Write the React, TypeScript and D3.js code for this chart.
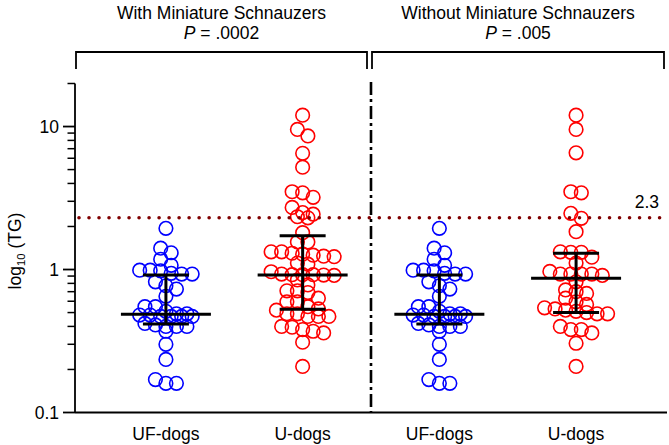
import React from 'react';
import * as d3 from 'd3';

const groups = ['UF-with', 'U-with', 'UF-without', 'U-without'];
const groupLabels = ['UF-dogs', 'U-dogs', 'UF-dogs', 'U-dogs'];
const groupColors = ['#0000ff', '#ff0000', '#0000ff', '#ff0000'];

const ufDogs = [1.94, 1.41, 1.31, 1.18, 1.07, 0.99, 0.99, 0.98, 0.94, 0.93, 0.93, 0.82, 0.77, 0.73, 0.65,
  0.55, 0.55, 0.51, 0.49, 0.49, 0.48, 0.48, 0.47, 0.47, 0.47, 0.47, 0.42, 0.41, 0.40, 0.40, 0.40, 0.37,
  0.30, 0.235, 0.17, 0.16, 0.16];
const uDogsWith = [12.0, 9.55, 8.6, 6.5, 5.2, 3.5, 3.44, 3.2, 2.72, 2.5, 2.44, 2.34, 2.30, 1.81, 1.56, 1.56,
  1.33, 1.33, 1.30, 1.28, 1.26, 1.24, 1.23, 1.11, 1.09, 0.965, 0.93, 0.92, 0.92, 0.92, 0.915, 0.91, 0.845,
  0.78, 0.71, 0.71, 0.69, 0.63, 0.595, 0.595, 0.55, 0.53, 0.52, 0.49, 0.49, 0.47, 0.47, 0.47, 0.40, 0.395,
  0.38, 0.37, 0.36, 0.31, 0.21];
const uDogsWithout = [12.0, 9.55, 6.55, 3.5, 3.44, 2.47, 2.28, 1.84, 1.33, 1.32, 1.32, 1.22, 1.11, 0.97,
  0.93, 0.93, 0.93, 0.93, 0.91, 0.82, 0.72, 0.70, 0.68, 0.63, 0.595, 0.57, 0.54, 0.53, 0.52, 0.51, 0.50,
  0.49, 0.49, 0.40, 0.38, 0.38, 0.36, 0.305, 0.21];
const groupValues = [ufDogs, uDogsWith, ufDogs, uDogsWithout];

const medians = [0.486, 0.915, 0.486, 0.87];
const q1s = [0.416, 0.527, 0.416, 0.50];
const q3s = [0.915, 1.72, 0.915, 1.30];

const panelTitles = ['With Miniature Schnauzers', 'Without Miniature Schnauzers'];
const pValues = ['.0002', '.005'];
const threshold = 2.3;
const thresholdLabel = '2.3';
const yTickValues = [0.1, 1, 10];
const yTickLabels = ['0.1', '1', '10'];

const W = 669;
const H = 445;
const FONT = '"Liberation Sans", Arial, Helvetica, sans-serif';
const FS = 17.5;

const y = d3.scaleLog().domain([0.1, 20]).range([412.5, 83.5]);
const x = d3.scalePoint<string>().domain(groups).range([75, 667]).padding(0.665);

const R = 6.8;
const SPACING = 10.5;
const TOL = 7.5;

function swarm(values: number[], cx: number) {
  const sorted = [...values].sort((a, b) => b - a);
  const pts: { v: number; x: number; y: number }[] = [];
  let row: number[] = [];
  let rowStart: number | null = null;
  const flush = () => {
    const n = row.length;
    row.forEach((v, i) => pts.push({ v, x: cx + (i - (n - 1) / 2) * SPACING, y: y(v) }));
    row = [];
  };
  for (const v of sorted) {
    const py = y(v);
    if (rowStart === null || py - rowStart > TOL) {
      flush();
      rowStart = py;
    }
    row.push(v);
  }
  flush();
  return pts;
}

const minorTicks: number[] = [];
for (const e of [0.1, 1, 10]) {
  for (let k = 2; k <= 9; k++) {
    const v = k * e;
    if (v <= 20.0001) minorTicks.push(v);
  }
}

export default function App() {
  const y0 = y(0.1);
  const yTop = y(20);
  const axisLeft = 75;
  const axisRight = 667;
  const sepX = ((x(groups[1]) as number) + (x(groups[2]) as number)) / 2;
  const brackets = [
    [76, sepX - 4],
    [sepX + 1, 664],
  ];
  const ty = y(threshold);
  return (
    <div style={{ position: 'absolute', left: 0, top: 0 }}>
      <svg width={W} height={H} style={{ display: 'block', fontFamily: FONT }}>
        <rect width={W} height={H} fill="#fff" />
        {brackets.map((b, i) => {
          const cx = (b[0] + b[1]) / 2;
          return (
            <g key={'b' + i}>
              <text x={cx} y={19} textAnchor="middle" fontSize={FS} fill="#000">{panelTitles[i]}</text>
              <text x={cx} y={39} textAnchor="middle" fontSize={FS} fill="#000">
                <tspan fontStyle="italic">P</tspan>
                <tspan> = {pValues[i]}</tspan>
              </text>
              <path d={`M${b[0]},69V52H${b[1]}V69`} fill="none" stroke="#000" strokeWidth={1.8} />
            </g>
          );
        })}
        <line x1={axisLeft} x2={axisLeft} y1={yTop} y2={y0} stroke="#000" strokeWidth={1.8} />
        <line x1={axisLeft} x2={axisRight} y1={y0} y2={y0} stroke="#000" strokeWidth={1.8} />
        {yTickValues.map((v, i) => (
          <g key={'t' + i}>
            <line x1={63} x2={axisLeft} y1={y(v)} y2={y(v)} stroke="#000" strokeWidth={1.8} />
            <text x={59} y={y(v)} dy="0.35em" textAnchor="end" fontSize={FS} fill="#000">{yTickLabels[i]}</text>
          </g>
        ))}
        {minorTicks.map((v, i) => (
          <line key={'m' + i} x1={67.5} x2={axisLeft} y1={y(v)} y2={y(v)} stroke="#000" strokeWidth={1.5} />
        ))}
        <text transform={`translate(21,251) rotate(-90)`} textAnchor="middle" fontSize={FS} fill="#000">
          log<tspan fontSize={FS * 0.65} dy={4}>10</tspan>
          <tspan dy={-4}> (TG)</tspan>
        </text>
        {groups.map((g, i) => (
          <text key={'xl' + i} x={x(g) as number} y={440} textAnchor="middle" fontSize={FS} fill="#000">{groupLabels[i]}</text>
        ))}
        <line x1={sepX} x2={sepX} y1={82} y2={y0} stroke="#000" strokeWidth={2.6} strokeDasharray="13,4,3,4" />
        {groups.map((g, gi) => (
          <g key={'p' + gi}>
            {swarm(groupValues[gi], x(g) as number).map((p, i) => (
              <circle key={i} cx={p.x} cy={p.y} r={R} fill="none" stroke={groupColors[gi]} strokeWidth={1.6} />
            ))}
          </g>
        ))}
        {groups.map((g, gi) => {
          const cx = x(g) as number;
          return (
            <g key={'s' + gi} stroke="#000" strokeWidth={3}>
              <line x1={cx - 45} x2={cx + 45} y1={y(medians[gi])} y2={y(medians[gi])} />
              <line x1={cx - 23} x2={cx + 23} y1={y(q1s[gi])} y2={y(q1s[gi])} />
              <line x1={cx - 23} x2={cx + 23} y1={y(q3s[gi])} y2={y(q3s[gi])} />
              <line x1={cx} x2={cx} y1={y(q1s[gi])} y2={y(q3s[gi])} />
            </g>
          );
        })}
        <line x1={79} x2={663} y1={ty} y2={ty} stroke="#800000" strokeWidth={3.6} strokeLinecap="round" strokeDasharray="0.01,10" />
        <text x={659} y={ty - 10} textAnchor="end" fontSize={FS} fill="#000">{thresholdLabel}</text>
      </svg>
    </div>
  );
}
